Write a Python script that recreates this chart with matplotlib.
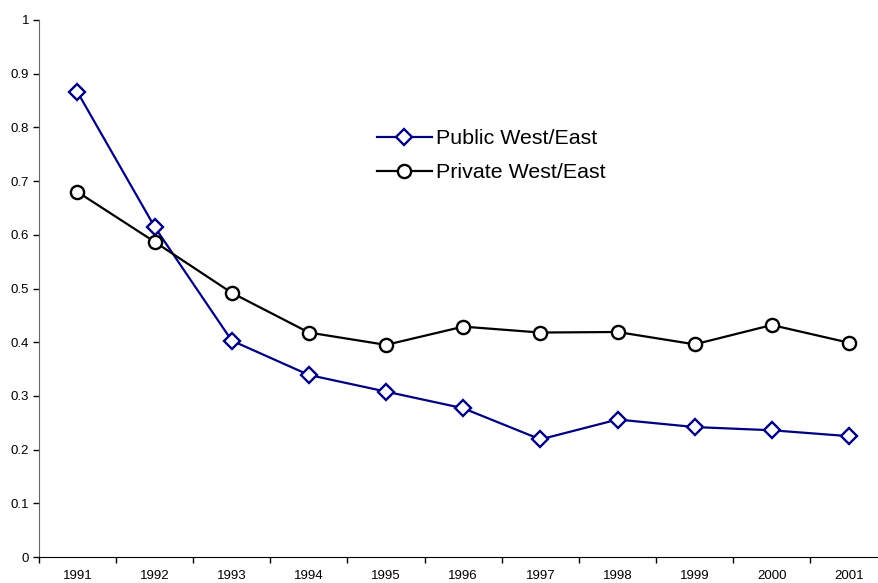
import matplotlib
matplotlib.use("Agg")
import matplotlib.pyplot as plt
from matplotlib.ticker import FixedLocator, FuncFormatter

plt.rcParams['font.family'] = ['Liberation Sans', 'DejaVu Sans']

years = ["1991", "1992", "1993", "1994", "1995", "1996", "1997", "1998", "1999", "2000", "2001"]
public_we = [0.866, 0.615, 0.403, 0.339, 0.308, 0.277, 0.219, 0.256, 0.242, 0.236, 0.225]
private_we = [0.680, 0.587, 0.492, 0.418, 0.395, 0.429, 0.418, 0.419, 0.396, 0.432, 0.399]
yticks = [0, 0.1, 0.2, 0.3, 0.4, 0.5, 0.6, 0.7, 0.8, 0.9, 1]

W, H = 879, 583
fig = plt.figure(figsize=(W/100, H/100), dpi=100)
left = 38.8 / W
right = 887.6 / W
bottom = 1 - 557 / H
top = 1 - 20 / H
ax = fig.add_axes([left, bottom, right - left, top - bottom])

x = list(range(len(years)))
ax.plot(x, public_we, color='#000080', lw=1.6, marker='D', markersize=8,
        markerfacecolor='white', markeredgecolor='#000080', markeredgewidth=1.7,
        label='Public West/East', clip_on=False)
ax.plot(x, private_we, color='black', lw=1.6, marker='o', markersize=9.5,
        markerfacecolor='white', markeredgecolor='black', markeredgewidth=1.7,
        label='Private West/East', clip_on=False)

ax.set_xlim(-0.5, len(years) - 0.5)
ax.set_ylim(0, 1)
ax.set_yticks(yticks)
ax.yaxis.set_major_formatter(FuncFormatter(lambda v, p: ('%g' % v)))
ax.set_xticks(x)
ax.set_xticklabels(years)
ax.xaxis.set_minor_locator(FixedLocator([i + 0.5 for i in range(-1, len(years))]))
ax.tick_params(axis='x', which='major', length=0, labelsize=9.5, pad=9.5)
ax.tick_params(axis='x', which='minor', length=4, direction='out', width=1)
ax.tick_params(axis='y', which='major', length=4, direction='out', width=1, labelsize=9.5, pad=3)

for s in ['top', 'right']:
    ax.spines[s].set_visible(False)
ax.spines['left'].set_color('#666666')
ax.spines['bottom'].set_color('black')

leg = ax.legend(loc='upper left', bbox_to_anchor=((377 - 38.8) / (887.6 - 38.8), (557 - 129) / 537),
                frameon=False, fontsize=15.4, handlelength=2.55, handletextpad=0.2,
                labelspacing=0.72, borderaxespad=0, borderpad=0)

fig.savefig("out.png", dpi=100)
